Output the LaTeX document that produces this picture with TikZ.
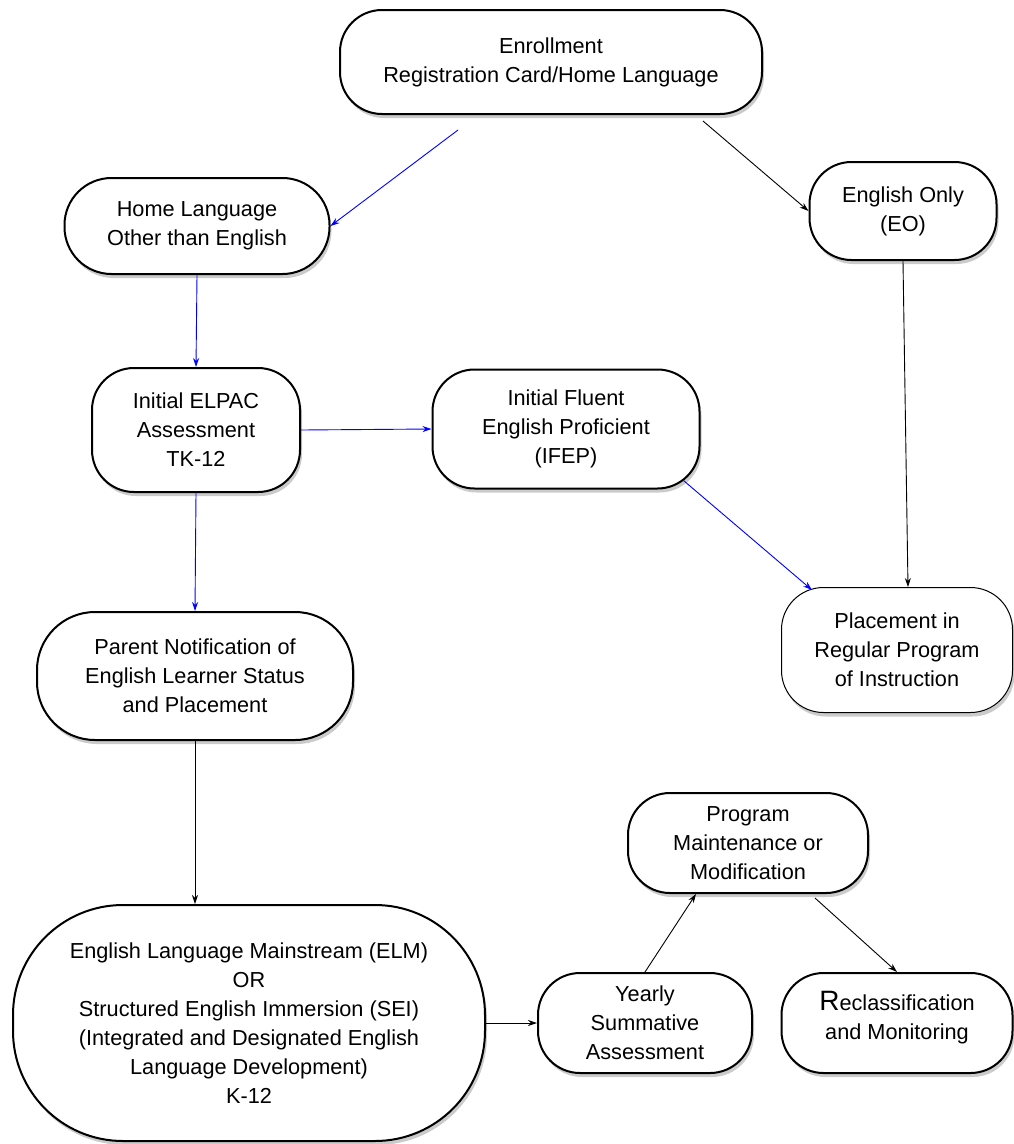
\documentclass[tikz,border=0pt]{standalone}
\usepackage{fontspec}
\setmainfont{Liberation Sans}
\usepackage{tikz}
\usetikzlibrary{arrows.meta,%
	shadows,%
	calc}

\begin{document}
\begin{tikzpicture}[x=1pt,y=-1pt]
		\useasboundingbox (0,0) rectangle (1013,1144);
		\tikzstyle{StageStyle}=[draw,fill=white,line width=2pt,rounded corners=42pt,align=center,inner sep=0pt,font=\fontsize{21.7}{29}\selectfont,drop shadow={shadow xshift=2pt,shadow yshift=-4pt,fill=black!45,opacity=0.45}]
		\tikzstyle{EdgeStyle}=[line width=0.9pt,-{Stealth[length=9pt,width=6pt]}]
		\tikzstyle{BlueEdge}=[EdgeStyle,blue]
		\node[StageStyle,minimum width=422pt,minimum height=104pt] (enroll) at (551,62) {Enrollment\\Registration Card/Home Language};
		\node[StageStyle,rounded corners=47pt,minimum width=265pt,minimum height=96pt] (home) at (197,226) {Home Language\\Other than English};
		\node[StageStyle,minimum width=187pt,minimum height=98pt] (eo) at (903,211) {English Only\\(EO)};
		\node[StageStyle,minimum width=208pt,minimum height=124pt] (elpac) at (196,430) {Initial ELPAC\\Assessment\\TK-12};
		\node[StageStyle,minimum width=267pt,minimum height=119pt] (ifep) at (566,429) {Initial Fluent\\English Proficient\\(IFEP)};
		\node[StageStyle,line width=1pt,minimum width=231pt,minimum height=125pt] (place) at (897,650) {Placement in\\Regular Program\\of Instruction};
		\node[StageStyle,rounded corners=58pt,minimum width=316pt,minimum height=128pt] (parent) at (195,676) {Parent Notification of\\English Learner Status\\and Placement};
		\node[StageStyle,rounded corners=110pt,minimum width=472pt,minimum height=236pt] (elm) at (249,1023) {English Language Mainstream (ELM)\\OR\\Structured English Immersion (SEI)\\(Integrated and Designated English\\Language Development)\\K-12};
		\node[StageStyle,minimum width=240pt,minimum height=100pt] (prog) at (748,843) {Program\\Maintenance or\\Modification};
		\node[StageStyle,minimum width=214pt,minimum height=100pt] (yearly) at (645,1023) {Yearly\\Summative\\Assessment};
		\node[StageStyle,minimum width=231pt,minimum height=100pt] (reclass) at (897,1023) {{\fontsize{28}{29}\selectfont R}eclassification\\and Monitoring\\[-14pt]\mbox{}};
		\draw[BlueEdge] ([xshift=-93pt,yshift=-15pt]enroll.south) -- (home.east);
		\draw[EdgeStyle] ([xshift=152pt,yshift=-6pt]enroll.south) -- (eo.west);
		\draw[BlueEdge] (home.south) -- (elpac.north);
		\draw[BlueEdge] (elpac.east) -- (ifep.west);
		\draw[BlueEdge] (elpac.south) -- (parent.north);
		\draw[BlueEdge] ([xshift=-17pt,yshift=9pt]ifep.south east) -- ([xshift=31pt,yshift=-3pt]place.north west);
		\draw[EdgeStyle] (eo.south) -- ([xshift=11pt]place.north);
		\draw[EdgeStyle] (parent.south) -- (parent.south |- elm.north);
		\draw[EdgeStyle] (elm.east) -- (yearly.west);
		\draw[EdgeStyle] (yearly.north) -- ([xshift=-52pt]prog.south);
		\draw[EdgeStyle] ([xshift=67pt,yshift=-4pt]prog.south) -- (reclass.north);
\end{tikzpicture}
\end{document}
